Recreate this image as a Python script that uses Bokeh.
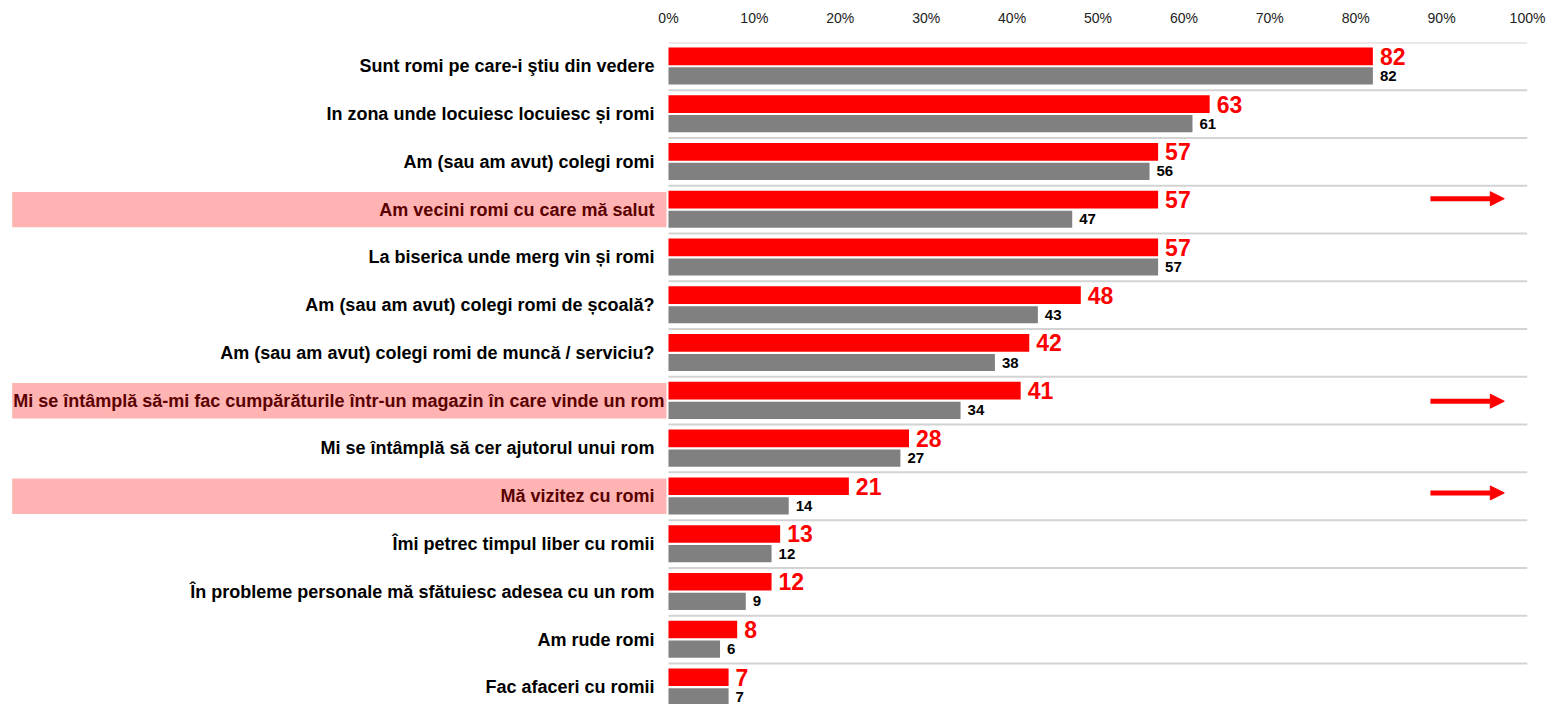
from bokeh.plotting import figure
from bokeh.models import Range1d, FixedTicker, ColumnDataSource, Arrow, NormalHead
from bokeh.core.properties import value
from bokeh.embed import file_html
from bokeh.resources import INLINE

# ---------------- data ----------------
categories = [
    "Sunt romi pe care-i ştiu din vedere",
    "In zona unde locuiesc locuiesc și romi",
    "Am (sau am avut) colegi romi",
    "Am vecini romi cu care mă salut",
    "La biserica unde merg vin și romi",
    "Am (sau am avut) colegi romi de școală?",
    "Am (sau am avut) colegi romi de muncă / serviciu?",
    "Mi se întâmplă să-mi fac cumpărăturile într-un magazin în care vinde un rom",
    "Mi se întâmplă să cer ajutorul unui rom",
    "Mă vizitez cu romi",
    "Îmi petrec timpul liber cu romii",
    "În probleme personale mă sfătuiesc adesea cu un rom",
    "Am rude romi",
    "Fac afaceri cu romii",
]
red_values = [82, 63, 57, 57, 57, 48, 42, 41, 28, 21, 13, 12, 8, 7]
gray_values = [82, 61, 56, 47, 57, 43, 38, 34, 27, 14, 12, 9, 6, 7]
highlighted = [3, 7, 9]
tick_values = [0, 10, 20, 30, 40, 50, 60, 70, 80, 90, 100]
tick_labels = ["0%", "10%", "20%", "30%", "40%", "50%", "60%", "70%", "80%", "90%", "100%"]

# ---------------- styling ----------------
RED = "#ff0000"
GRAY = "#808080"
FONT = value("Liberation Sans")
arrow_dy = [-0.23, 0.01, -0.07]

n = len(categories)
idx = list(range(n))

p = figure(
    width=1559, height=704,
    x_range=Range1d(-77.76, 100), y_range=Range1d(13.36, -0.5),
    x_axis_location="above", y_axis_location=None,
    output_backend="svg", toolbar_location=None,
    min_border_left=0, min_border_right=32, min_border_top=42, min_border_bottom=0,
)
p.outline_line_color = None
p.xgrid.visible = False
p.ygrid.visible = False

ax = p.xaxis[0]
ax.ticker = FixedTicker(ticks=tick_values)
ax.major_label_overrides = {t: l for t, l in zip(tick_values, tick_labels)}
ax.axis_line_color = None
ax.major_tick_line_color = None
ax.minor_tick_line_color = None
ax.major_label_standoff = 11
ax.major_label_text_font = "Liberation Sans"
ax.major_label_text_font_size = "14px"
ax.major_label_text_color = "#222222"

# row separators
sep_y = [i - 0.5 for i in idx]
p.segment(x0=[0] * n, x1=[100] * n, y0=sep_y, y1=sep_y, line_color="#d3d3d3", line_width=2)

# highlight boxes
hl_src = ColumnDataSource(dict(y=highlighted))
p.hbar(y="y", left=-76.4, right=-0.23, height=0.74, source=hl_src,
       fill_color="#ffb3b3", line_color=None)

# category labels
label_colors = ["#5a0000" if i in highlighted else "#000000" for i in idx]
label_x = [-0.47 if len(c) > 60 else -1.63 for c in categories]
src = ColumnDataSource(dict(
    y=idx, cat=categories, col=label_colors, lx=label_x,
    red=red_values, gray=gray_values,
    y_red=[i - 0.21 for i in idx], y_gray=[i + 0.2 for i in idx],
    red_txt=[str(v) for v in red_values], gray_txt=[str(v) for v in gray_values],
))
p.text(x="lx", y="y", text="cat", source=src, text_align="right", text_baseline="middle",
       text_font=FONT, text_font_style="bold", text_font_size="18px", text_color="col")

# bars
p.hbar(y="y_red", left=0, right="red", height=0.37, source=src, fill_color=RED, line_color=None)
p.hbar(y="y_gray", left=0, right="gray", height=0.36, source=src, fill_color=GRAY, line_color=None)

# value labels
p.text(x="red", y="y_red", text="red_txt", source=src, x_offset=7, text_baseline="middle",
       text_font=FONT, text_font_style="bold", text_font_size="23px", text_color=RED)
p.text(x="gray", y="y_gray", text="gray_txt", source=src, x_offset=7, text_baseline="middle",
       text_font=FONT, text_font_style="bold", text_font_size="15px", text_color="#000000")

# arrows
for r, dy in zip(highlighted, arrow_dy):
    p.add_layout(Arrow(
        end=NormalHead(size=14, fill_color=RED, line_color=RED, line_width=1),
        x_start=88.7, x_end=97.3, y_start=r + dy, y_end=r + dy,
        line_color=RED, line_width=5,
    ))

open("out.html", "w").write(file_html(p, INLINE))
